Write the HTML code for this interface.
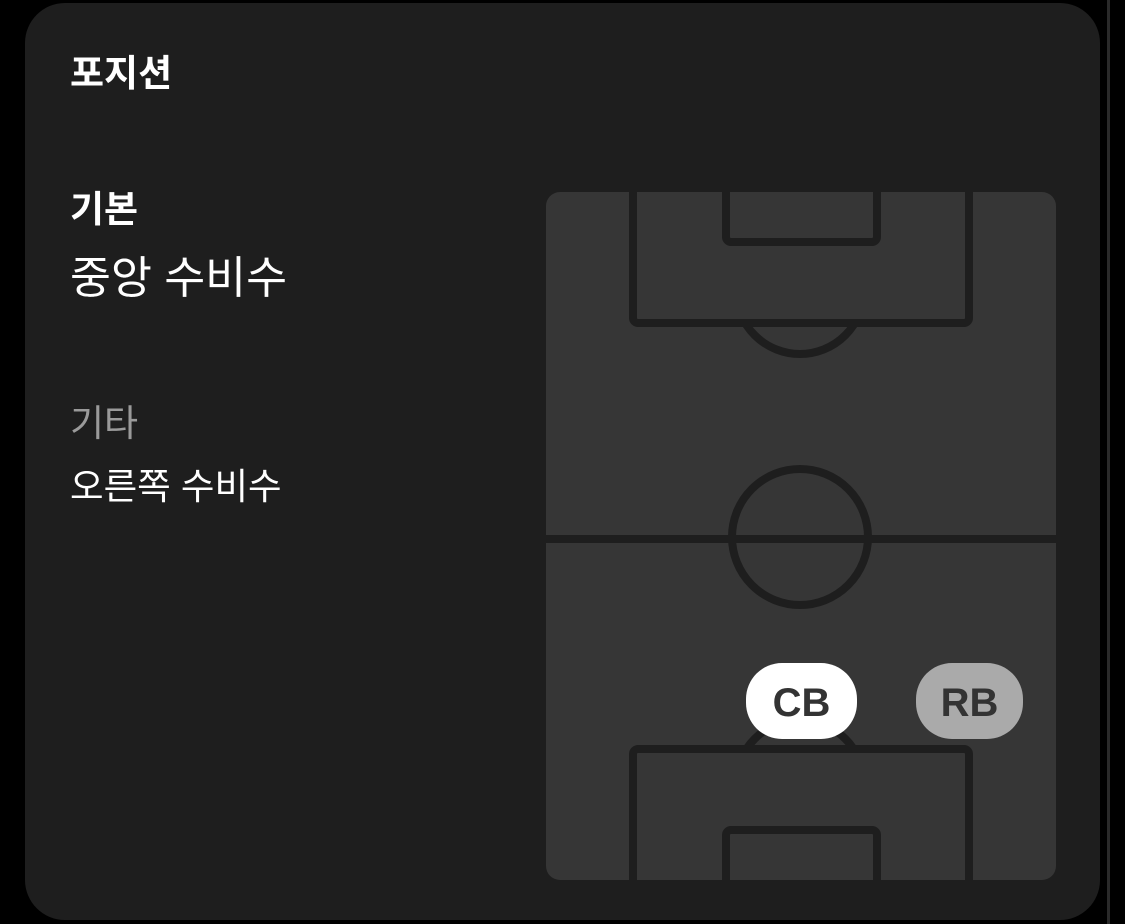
<!DOCTYPE html>
<html><head><meta charset="utf-8"><style>
body{margin:0;width:1125px;height:924px;background:#000;overflow:hidden;font-family:"Liberation Sans","Noto Sans CJK KR",sans-serif;position:relative}
.card{position:absolute;left:25px;top:3px;width:1075px;height:917px;background:#1e1e1e;border-radius:40px}
.line{position:absolute;left:1107px;top:0;width:3px;height:924px;background:#2a2a2a}
.t{position:absolute;color:#fff;white-space:nowrap;line-height:1}
</style></head><body>
<div class="line"></div>
<div class="card"></div>
<div class="t" style="left:70px;top:55px;font-size:37px;font-weight:bold">포지션</div>
<div class="t" style="left:70px;top:191px;font-size:37px;font-weight:bold">기본</div>
<div class="t" style="left:70px;top:257px;font-size:44.5px">중앙 수비수</div>
<div class="t" style="left:70px;top:405px;font-size:37px;color:#9a9a9a">기타</div>
<div class="t" style="left:70px;top:469px;font-size:36.5px">오른쪽 수비수</div>
<svg style="position:absolute;left:0;top:0" width="1125" height="924">
<defs><clipPath id="c"><rect x="546" y="192" width="510" height="688" rx="14"/></clipPath></defs>
<rect x="546" y="192" width="510" height="688" rx="14" fill="#363636"/>
<g clip-path="url(#c)" stroke="#1e1e1e" stroke-width="8" fill="none">
<circle cx="800" cy="290" r="64"/>
<circle cx="800" cy="784" r="64"/>
<rect x="633" y="150" width="336" height="173" rx="5" fill="#363636"/>
<rect x="726" y="150" width="151" height="92" rx="5"/>
<line x1="546" y1="539" x2="1056" y2="539"/>
<circle cx="800" cy="537" r="68"/>
<rect x="633" y="749" width="336" height="180" rx="5" fill="#363636"/>
<rect x="726" y="830" width="151" height="100" rx="5"/>
</g>
<rect x="746" y="663" width="111" height="76" rx="36" fill="#fff"/>
<text x="801.5" y="716" text-anchor="middle" font-size="40" font-weight="bold" fill="#333" font-family="Liberation Sans, sans-serif">CB</text>
<rect x="916" y="663" width="107" height="76" rx="36" fill="#aaa"/>
<text x="969.5" y="716" text-anchor="middle" font-size="40" font-weight="bold" fill="#333" font-family="Liberation Sans, sans-serif">RB</text>
</svg>
</body></html>
